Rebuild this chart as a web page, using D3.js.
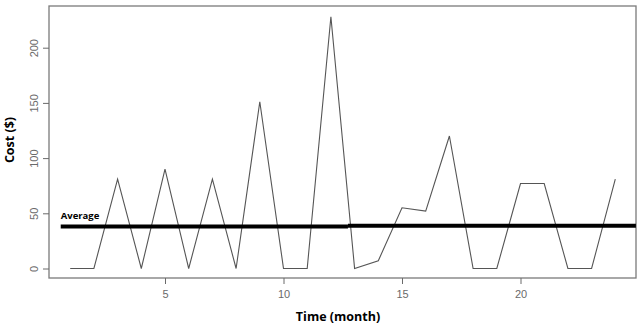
<!DOCTYPE html>
<html>
<head>
<meta charset="utf-8">
<script src="https://cdn.jsdelivr.net/npm/d3@7"></script>
<style>
  body { margin: 0; background: #fff; }
  svg { display: block; font-family: "Open Sans", "DejaVu Sans", sans-serif; }
</style>
</head>
<body>
<svg id="chart" width="640" height="328"></svg>
<script>
// ─── Data ────────────────────────────────────────────────────
const months = d3.range(1, 25);
const costs = [0, 0, 81, 0, 90, 0, 81, 0, 151, 0, 0, 228,
               0, 7, 55, 52, 120, 0, 0, 77, 77, 0, 0, 81];
// average line was drawn in two slightly offset pieces
const avgSegments = [
  { from: 0.6, to: 12.72, value: 38.0 },
  { from: 12.72, to: 24.87, value: 38.7 }
];
const xTicks = [5, 10, 15, 20];
const yTicks = [0, 50, 100, 150, 200];

// ─── Layout ──────────────────────────────────────────────────
const box = { left: 49, right: 636, top: 6, bottom: 278 };
const svg = d3.select("#chart");

const x = d3.scaleLinear().domain([1, 24]).range([70.2, 615.3]);
const y = d3.scaleLinear().domain([0, 200]).range([268.5, 47.7]);

// ─── Frame ───────────────────────────────────────────────────
svg.append("rect")
  .attr("x", box.left).attr("y", box.top)
  .attr("width", box.right - box.left).attr("height", box.bottom - box.top)
  .attr("fill", "none").attr("stroke", "#7a7a7a").attr("stroke-width", 1.3);

// ─── Axes ────────────────────────────────────────────────────
const xAxis = svg.append("g")
  .attr("transform", `translate(0,${box.bottom})`)
  .call(d3.axisBottom(x).tickValues(xTicks).tickSize(6).tickPadding(6));
xAxis.select(".domain").remove();

const yAxis = svg.append("g")
  .attr("transform", `translate(${box.left},0)`)
  .call(d3.axisLeft(y).tickValues(yTicks).tickSize(6));
yAxis.select(".domain").remove();

[xAxis, yAxis].forEach((g) => {
  g.selectAll(".tick line").attr("stroke", "#6a6a6a");
  g.selectAll(".tick text")
    .attr("fill", "#6a6a6a")
    .style("font-size", "11px")
    .style("font-family", "Arial, 'Liberation Sans', sans-serif");
});

// R draws y labels parallel to the axis
yAxis.selectAll(".tick text")
  .attr("x", null)
  .attr("text-anchor", "middle")
  .attr("transform", "translate(-15,0) rotate(-90)")
  .attr("dy", "0.35em");

// ─── Cost line ───────────────────────────────────────────────
const line = d3.line().x((d, i) => x(months[i])).y((d) => y(d));
svg.append("path")
  .datum(costs)
  .attr("d", line)
  .attr("fill", "none")
  .attr("stroke", "#555")
  .attr("stroke-width", 1.1);

// ─── Average ─────────────────────────────────────────────────
svg.append("g").selectAll("line")
  .data(avgSegments)
  .join("line")
  .attr("x1", (d) => x(d.from)).attr("x2", (d) => x(d.to))
  .attr("y1", (d) => y(d.value)).attr("y2", (d) => y(d.value))
  .attr("stroke", "#000").attr("stroke-width", 4);

svg.append("text")
  .attr("x", x(0.6)).attr("y", 219)
  .style("font-size", "9.5px").style("font-weight", "bold")
  .text("Average");

// ─── Axis titles ─────────────────────────────────────────────
svg.append("text")
  .attr("x", 338).attr("y", 321)
  .attr("text-anchor", "middle")
  .style("font-size", "12.5px").style("font-weight", "bold")
  .text("Time (month)");

svg.append("text")
  .attr("transform", "translate(14,140) rotate(-90)")
  .attr("text-anchor", "middle")
  .style("font-size", "12.5px").style("font-weight", "bold")
  .text("Cost ($)");
</script>
</body>
</html>
